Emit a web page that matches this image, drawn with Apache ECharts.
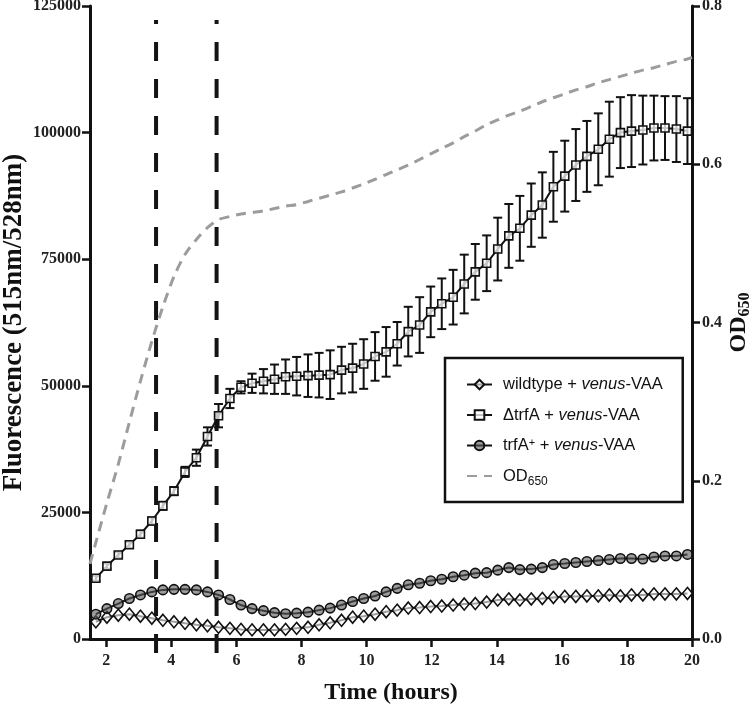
<!DOCTYPE html>
<html>
<head>
<meta charset="utf-8">
<script src="https://cdn.jsdelivr.net/npm/echarts@6/dist/echarts.min.js"></script>
<style>html,body{margin:0;padding:0;background:#fff}#c{width:750px;height:705px}</style>
</head>
<body>
<div id="c"></div>
<script>
const hours = [1.68,2.02,2.37,2.71,3.05,3.40,3.74,4.08,4.42,4.77,5.11,5.45,5.80,6.14,6.48,6.83,7.17,7.51,7.85,8.20,8.54,8.88,9.23,9.57,9.91,10.26,10.60,10.94,11.28,11.63,11.97,12.31,12.66,13.00,13.34,13.69,14.03,14.37,14.71,15.06,15.40,15.74,16.09,16.43,16.77,17.12,17.46,17.80,18.14,18.49,18.83,19.17,19.52,19.86];
const wildtype = [3400,4300,4700,4900,4500,4100,3700,3400,3100,2800,2600,2300,2100,1900,1800,1800,1800,1900,2100,2300,2800,3200,3700,4300,4500,4900,5400,5700,6100,6200,6400,6500,6700,6900,7000,7300,7700,7900,7700,7900,8000,8200,8400,8400,8500,8500,8700,8500,8700,8700,8900,8900,8900,9000];
const deltaTrfA = [12000,14400,16600,18600,20700,23300,26300,29200,33000,35800,40000,44100,47500,49700,50500,50900,51300,51800,51900,52000,52100,52200,53100,53500,54300,55800,56700,58300,60700,62000,64600,66200,67500,70100,72500,74200,77000,79600,81100,83700,85700,89300,91400,93600,95300,96700,98700,100000,100300,100500,100900,100900,100700,100300];
const deltaErr = [500,500,600,600,700,700,800,800,1000,1600,1800,2300,1900,1200,1900,2400,2900,3400,3800,4200,4400,4800,4600,4800,4900,4800,4900,4300,4900,5500,5000,5000,5400,5800,5500,5500,6200,6300,6400,6250,6450,6900,7000,7100,7000,7100,7400,7000,7100,6800,6400,6300,6500,6500];
const trfAPlus = [4900,6000,7000,8000,8700,9300,9700,9800,9800,9700,9300,8700,7800,6700,6000,5600,5200,5000,5100,5300,5700,6100,6700,7400,8000,8500,9300,10000,10700,11000,11500,11800,12300,12600,13000,13100,13600,14100,13700,13800,14100,14700,14900,15100,15300,15500,15700,15900,15900,15800,16200,16400,16400,16700];
const odHours = [1.50,1.68,2.02,2.37,2.71,3.05,3.40,3.74,4.08,4.42,4.77,5.11,5.45,5.80,6.14,6.48,6.83,7.17,7.51,7.85,8.20,8.54,8.88,9.23,9.57,9.91,10.26,10.60,10.94,11.28,11.63,11.97,12.31,12.66,13.00,13.34,13.69,14.03,14.37,14.71,15.06,15.40,15.74,16.09,16.43,16.77,17.12,17.46,17.80,18.14,18.49,18.83,19.17,19.52,19.86,20.00];
const od650 = [0.095,0.122,0.172,0.221,0.274,0.326,0.376,0.420,0.458,0.486,0.505,0.520,0.530,0.534,0.537,0.539,0.541,0.544,0.547,0.549,0.553,0.557,0.561,0.565,0.570,0.575,0.581,0.587,0.593,0.599,0.606,0.613,0.620,0.627,0.635,0.642,0.650,0.656,0.662,0.667,0.673,0.679,0.684,0.689,0.694,0.698,0.703,0.707,0.711,0.715,0.719,0.722,0.726,0.730,0.733,0.735];
const markerHours = [3.53, 5.39];
const markerSpan = [-2765, 122250];
const xTicks = [2,4,6,8,10,12,14,16,18,20];

const SERIF = '"Liberation Serif","Times New Roman",serif';
const SANS = '"Liberation Sans",Arial,sans-serif';
const chart = echarts.init(document.getElementById('c'), null, {renderer:'canvas'});

const legendNames = {
  wt: 'wildtype + {i|venus}-VAA',
  dt: 'ΔtrfA + {i|venus}-VAA',
  tp: 'trfA{sup|+} + {i|venus}-VAA',
  od: 'OD{sub|650}'
};

const pair = (xs, ys) => xs.map((x, i) => [x, ys[i]]);

const series = [];
markerHours.forEach(h => {
  series.push({
    type: 'line', name: 'marker' + h, yAxisIndex: 0, clip: false, silent: true,
    symbol: 'none', z: 1,
    data: [[h, markerSpan[0]], [h, markerSpan[1]]],
    lineStyle: {color: '#141414', width: 4, type: [19, 18]}
  });
});
series.push({
  type: 'line', name: 'od', yAxisIndex: 1, symbol: 'none', smooth: 0.3,
  data: pair(odHours, od650),
  lineStyle: {color: '#9c9c9c', width: 3, type: [10, 7]},
  itemStyle: {color: '#9c9c9c'}, z: 2
});
series.push({
  type: 'custom', name: 'err', yAxisIndex: 0, z: 3, silent: true,
  data: hours.map((h, i) => [h, deltaTrfA[i], deltaErr[i]]),
  encode: {x: 0, y: 1},
  renderItem: function (params, api) {
    const x = api.value(0), y = api.value(1), e = api.value(2);
    const t = api.coord([x, y + e]), b = api.coord([x, y - e]);
    const w = 4.5;
    const st = {stroke: '#111', lineWidth: 2};
    return {type: 'group', children: [
      {type: 'line', shape: {x1: t[0], y1: t[1], x2: b[0], y2: b[1]}, style: st},
      {type: 'line', shape: {x1: t[0]-w, y1: t[1], x2: t[0]+w, y2: t[1]}, style: st},
      {type: 'line', shape: {x1: b[0]-w, y1: b[1], x2: b[0]+w, y2: b[1]}, style: st}
    ]};
  }
});
series.push({
  type: 'line', name: 'wt', yAxisIndex: 0, z: 4,
  data: pair(hours, wildtype),
  symbol: 'diamond', symbolSize: [10, 12], showAllSymbol: true,
  lineStyle: {color: '#111', width: 2},
  itemStyle: {color: 'rgba(255,255,255,0.6)', borderColor: '#111', borderWidth: 1.6}
});
series.push({
  type: 'line', name: 'dt', yAxisIndex: 0, z: 4,
  data: pair(hours, deltaTrfA),
  symbol: 'rect', symbolSize: 8, showAllSymbol: true,
  lineStyle: {color: '#111', width: 2},
  itemStyle: {color: 'rgba(255,255,255,0.75)', borderColor: '#111', borderWidth: 1.6}
});
series.push({
  type: 'line', name: 'tp', yAxisIndex: 0, z: 4,
  data: pair(hours, trfAPlus),
  symbol: 'circle', symbolSize: 9.5, showAllSymbol: true,
  lineStyle: {color: '#111', width: 2},
  itemStyle: {color: 'rgba(90,90,90,0.6)', borderColor: '#111', borderWidth: 1.6}
});

const option = {
  backgroundColor: '#fff',
  animation: false,
  grid: {left: 90, right: 58, top: 6, bottom: 66, containLabel: false, outerBoundsMode: 'none'},
  xAxis: {
    type: 'value', min: 1.5, max: 20,
    name: 'Time (hours)', nameLocation: 'middle', nameGap: 42, nameMoveOverlap: false,
    nameTextStyle: {fontFamily: SERIF, fontWeight: 'bold', fontSize: 24, color: '#111'},
    axisLine: {show: true, onZero: false, lineStyle: {color: '#111', width: 3}},
    axisTick: {show: true, customValues: xTicks, length: 8, lineStyle: {color: '#111', width: 2.5}},
    axisLabel: {customValues: xTicks, fontFamily: SERIF, fontWeight: 'bold', fontSize: 16, color: '#222', margin: 14},
    splitLine: {show: false}
  },
  yAxis: [{
    type: 'value', min: 0, max: 125000, interval: 25000, position: 'left',
    name: 'Fluorescence (515nm/528nm)', nameLocation: 'middle', nameGap: 62, nameMoveOverlap: false,
    nameTextStyle: {fontFamily: SERIF, fontWeight: 'bold', fontSize: 27, color: '#111'},
    axisLine: {show: true, lineStyle: {color: '#111', width: 3}},
    axisTick: {show: true, length: 8, lineStyle: {color: '#111', width: 2.5}},
    axisLabel: {fontFamily: SERIF, fontWeight: 'bold', fontSize: 16, color: '#222', margin: 9,
      formatter: v => String(v)},
    splitLine: {show: false}
  }, {
    type: 'value', min: 0, max: 0.8, interval: 0.2, position: 'right',
    name: '{a|OD}{b|650}', nameLocation: 'middle', nameGap: 33, nameRotate: 90, nameMoveOverlap: false,
    nameTextStyle: {rich: {
      a: {fontFamily: SERIF, fontWeight: 'bold', fontSize: 24, color: '#111', lineHeight: 28},
      b: {fontFamily: SERIF, fontWeight: 'bold', fontSize: 16, color: '#111', verticalAlign: 'bottom', lineHeight: 22}
    }},
    axisLine: {show: true, lineStyle: {color: '#111', width: 3}},
    axisTick: {show: true, length: 8, lineStyle: {color: '#111', width: 2.5}},
    axisLabel: {fontFamily: SERIF, fontWeight: 'bold', fontSize: 16, color: '#222', margin: 10,
      formatter: v => v.toFixed(1)},
    splitLine: {show: false}
  }],
  legend: {
    show: true, orient: 'vertical', left: 445, top: 358,
    data: ['wt', 'dt', 'tp', {name: 'od', itemStyle: {opacity: 0}}],
    itemWidth: 25, itemHeight: 12, itemGap: 13.5,
    padding: [18, 20, 14, 21],
    borderColor: '#111', borderWidth: 2.5, backgroundColor: '#fff',
    formatter: n => legendNames[n],
    textStyle: {fontFamily: SANS, fontSize: 16.5, color: '#111', padding: [0, 0, 0, 6],
      rich: {
        i: {fontFamily: SANS, fontSize: 16.5, fontStyle: 'italic', color: '#111'},
        sup: {fontFamily: SANS, fontSize: 11, color: '#111', verticalAlign: 'top', lineHeight: 14},
        sub: {fontFamily: SANS, fontSize: 12, color: '#111', verticalAlign: 'bottom', lineHeight: 24}
      }}
  },
  series: series
};
chart.setOption(option);
</script>
</body>
</html>
